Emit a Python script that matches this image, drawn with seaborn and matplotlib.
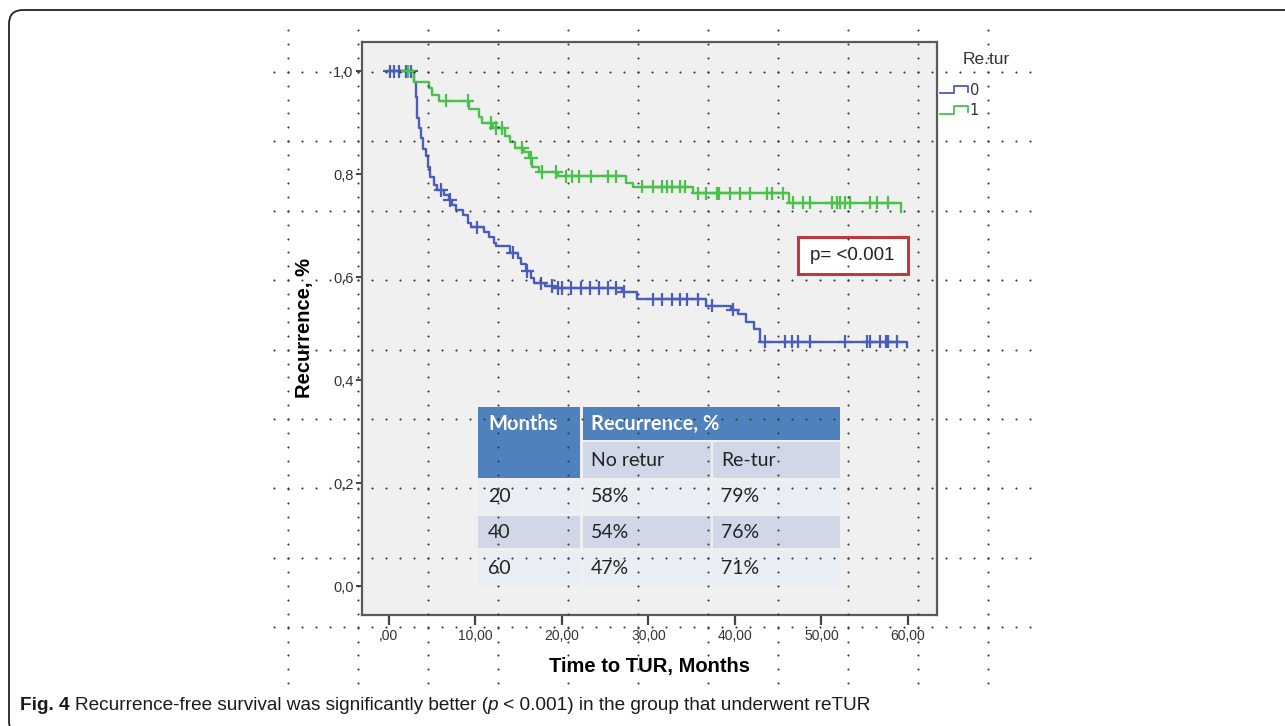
import numpy as np
import pandas as pd
import matplotlib
matplotlib.use("Agg")
import matplotlib.pyplot as plt
import seaborn as sns
from matplotlib.patches import Rectangle, FancyBboxPatch
from matplotlib.lines import Line2D
from matplotlib.legend_handler import HandlerBase
from matplotlib.transforms import IdentityTransform

# ---------------- data ----------------
group_labels = ["0", "1"]

# group 0 (no re-TUR): event times and survival after each step
no_retur_times = [2.9, 3.1, 3.3, 3.5, 3.7, 4.0, 4.3, 4.5, 4.8, 5.2, 5.6, 6.4, 6.9, 7.3,
                  7.8, 8.6, 9.2, 9.5, 11.0, 11.6, 12.1, 12.4, 14.0, 14.9, 15.3, 15.9,
                  16.4, 16.8, 18.0, 19.0, 26.9, 28.7, 36.6, 39.5, 40.4, 41.3, 42.2,
                  42.9, 59.9]
no_retur_surv = [0.98, 0.95, 0.91, 0.89, 0.87, 0.85, 0.835, 0.815, 0.795, 0.78, 0.77,
                 0.76, 0.75, 0.74, 0.73, 0.72, 0.705, 0.697, 0.688, 0.678, 0.667, 0.66,
                 0.648, 0.637, 0.625, 0.612, 0.598, 0.588, 0.583, 0.579, 0.572, 0.557,
                 0.545, 0.537, 0.528, 0.514, 0.50, 0.475, 0.465]
no_retur_censor = [0.1, 0.6, 1.2, 2.0, 2.6, 6.0, 7.1, 10.2, 14.3, 16.0, 17.6, 18.8, 19.5,
                   20.0, 21.0, 22.2, 23.2, 24.3, 25.3, 26.3, 27.2, 30.5, 31.6, 32.7,
                   33.6, 34.5, 35.7, 37.4, 39.8, 43.5, 45.8, 46.6, 47.3, 48.7, 52.7,
                   55.3, 55.6, 56.8, 57.4, 57.7, 58.7]

# group 1 (re-TUR)
retur_times = [2.9, 4.7, 5.0, 5.8, 9.3, 10.4, 10.8, 12.0, 13.4, 14.0, 14.6, 15.6, 16.2,
               16.6, 17.4, 19.6, 27.4, 28.2, 35.1, 46.3, 59.2]
retur_surv = [0.98, 0.968, 0.955, 0.943, 0.927, 0.912, 0.90, 0.89, 0.875, 0.862, 0.852,
              0.843, 0.832, 0.815, 0.804, 0.796, 0.784, 0.776, 0.763, 0.745, 0.726]
retur_censor = [2.2, 6.6, 9.1, 11.8, 12.4, 13.1, 15.4, 16.4, 17.7, 19.3, 20.5, 21.2, 22.0,
                23.4, 25.3, 26.3, 29.3, 30.5, 31.6, 32.1, 32.7, 33.6, 34.2, 35.7, 36.7,
                37.9, 38.2, 39.4, 40.6, 41.7, 43.7, 44.3, 45.5, 46.7, 47.9, 48.7, 51.2,
                51.8, 52.1, 52.7, 53.3, 55.6, 56.4, 57.7]

x_ticks = [0, 10, 20, 30, 40, 50, 60]
x_ticklabels = [",00", "10,00", "20,00", "30,00", "40,00", "50,00", "60,00"]
y_ticks = [0.0, 0.2, 0.4, 0.6, 0.8, 1.0]
y_ticklabels = ["0,0", "0,2", "0,4", "0,6", "0,8", "1,0"]

table_months = ["20", "40", "60"]
table_no_retur = ["58%", "54%", "47%"]
table_re_tur = ["79%", "76%", "71%"]
table_header = ["Months", "Recurrence, %", "No retur", "Re-tur"]

p_text = "p= <0.001"
legend_title = "Re.tur"
x_label = "Time to TUR, Months"
y_label = "Recurrence, %"
caption_parts = [("Fig. 4 ", "bold", "normal"),
                 ("Recurrence-free survival was significantly better (", "normal", "normal"),
                 ("p", "normal", "italic"),
                 (" < 0.001) in the group that underwent reTUR", "normal", "normal")]

colors = {"0": "#4a5cbc", "1": "#48c248"}

# ---------------- build tables ----------------
def steps_frame(times, surv, label):
    return pd.DataFrame({"time": [0.0] + list(times),
                         "surv": [1.0] + list(surv),
                         "group": label})

def censor_frame(times, surv, cens, label):
    t = np.array([0.0] + list(times))
    s = np.array([1.0] + list(surv))
    idx = np.searchsorted(t, np.array(cens), side="right") - 1
    return pd.DataFrame({"time": cens, "surv": s[idx], "group": label})

df_steps = pd.concat([steps_frame(no_retur_times, no_retur_surv, group_labels[0]),
                      steps_frame(retur_times, retur_surv, group_labels[1])],
                     ignore_index=True)
df_cens = pd.concat([censor_frame(no_retur_times, no_retur_surv, no_retur_censor, group_labels[0]),
                     censor_frame(retur_times, retur_surv, retur_censor, group_labels[1])],
                    ignore_index=True)

# ---------------- figure ----------------
W, H = 1285, 726
fig = plt.figure(figsize=(W / 100, H / 100), dpi=100)
fig.patch.set_facecolor("white")
PX = IdentityTransform()

def py(y):
    return H - y

sans = ["Liberation Sans", "DejaVu Sans"]

ax_l, ax_r, ax_t, ax_b = 362, 937, 42, 615
ax = fig.add_axes([ax_l / W, 1 - ax_b / H, (ax_r - ax_l) / W, (ax_b - ax_t) / H])
ax.set_facecolor("#f0f0f0")

sns.lineplot(data=df_steps, x="time", y="surv", hue="group", palette=colors,
             estimator=None, sort=False, drawstyle="steps-post", linewidth=1.7,
             legend=False, ax=ax, zorder=3)
sns.scatterplot(data=df_cens, x="time", y="surv", hue="group", palette=colors,
                marker="+", s=95, linewidth=1.6, legend=False, ax=ax, zorder=4)

ax.set_xlim(-3.1, 63.35)
ax.set_ylim(-0.056, 1.057)
ax.set_xticks(x_ticks)
ax.set_xticklabels(x_ticklabels)
ax.set_yticks(y_ticks)
ax.set_yticklabels(y_ticklabels)
for sp in ax.spines.values():
    sp.set_color("#5a5a5a")
    sp.set_linewidth(1.6)
ax.tick_params(axis="x", direction="out", length=7, width=1.6, color="#444444",
               labelsize=10, labelcolor="#333333", pad=3)
ax.tick_params(axis="y", direction="out", length=4, width=1.4, color="#444444",
               labelsize=10.5, labelcolor="#333333", pad=2)
for lab in ax.get_xticklabels() + ax.get_yticklabels():
    lab.set_family(sans)
ax.set_xlabel(x_label, fontsize=14.5, fontweight="bold", family=sans)
ax.set_ylabel(y_label, fontsize=14.5, fontweight="bold", family=sans)
ax.xaxis.set_label_coords(0.5, -0.073)
ax.yaxis.set_label_coords(-0.083, 0.5)

# ---------------- legend ----------------
class StepHandler(HandlerBase):
    def create_artists(self, legend, orig_handle, xdescent, ydescent, width, height,
                       fontsize, trans):
        x0, y0 = -xdescent, -ydescent
        xs = [x0, x0 + 0.5 * width, x0 + 0.5 * width, x0 + width, x0 + width]
        ys = [y0 + 0.15 * height, y0 + 0.15 * height, y0 + 0.85 * height,
              y0 + 0.85 * height, y0 + 0.3 * height]
        return [Line2D(xs, ys, color=orig_handle.get_color(), lw=1.3, transform=trans)]

handles = [Line2D([], [], color=colors[g]) for g in group_labels]
fig.legend(handles, group_labels, handler_map={Line2D: StepHandler()},
           loc="upper left", bbox_to_anchor=(940 / W, 1 - 83 / H), frameon=False,
           fontsize=10.5, handlelength=1.9, handletextpad=0.15, labelspacing=0.35,
           borderpad=0, borderaxespad=0, labelcolor="#333333")
fig.text(963, py(60), legend_title, transform=PX, fontsize=12.5, ha="left", va="center",
         color="#333333", family=sans)

# ---------------- p-value box ----------------
fig.add_artist(Rectangle((798, py(274)), 110, 37, transform=PX, facecolor="white",
                         edgecolor="#c0393b", linewidth=2.2, zorder=3))
fig.text(852, py(256), p_text, transform=PX, fontsize=13.5, ha="center", va="center",
         color="#222222", family=sans, zorder=4)

# ---------------- table ----------------
blue_h, light1, light2 = "#4f81bd", "#e9edf4", "#d0d8e8"
cols = [(478, 580), (583, 711), (713, 840)]
def cell(x0, x1, y0, y1, color):
    fig.add_artist(Rectangle((x0, py(y1)), x1 - x0, y1 - y0, transform=PX,
                             facecolor=color, edgecolor="none", zorder=3))
tfam = ["Lato", "DejaVu Sans"]
cell(cols[0][0], cols[0][1], 407, 478, blue_h)
cell(cols[1][0], cols[2][1], 407, 440, blue_h)
cell(cols[1][0], cols[1][1], 442, 478, light2)
cell(cols[2][0], cols[2][1], 442, 478, light2)
fig.text(488, py(424), table_header[0], transform=PX, fontsize=14.5, fontweight="bold",
         color="white", ha="left", va="center", family=tfam, zorder=4)
fig.text(591, py(424), table_header[1], transform=PX, fontsize=14.5, fontweight="bold",
         color="white", ha="left", va="center", family=tfam, zorder=4)
fig.text(591, py(461), table_header[2], transform=PX, fontsize=14, color="#222222",
         ha="left", va="center", family=tfam, zorder=4)
fig.text(721, py(461), table_header[3], transform=PX, fontsize=14, color="#222222",
         ha="left", va="center", family=tfam, zorder=4)
row_bounds = [(481, 513), (516, 548), (551, 586)]
row_cols = [light1, light2, light1]
for i, (y0, y1) in enumerate(row_bounds):
    for (x0, x1) in cols:
        cell(x0, x1, y0, y1, row_cols[i])
    yc = (y0 + y1) / 2
    for xt, txt in zip([488, 591, 721], [table_months[i], table_no_retur[i], table_re_tur[i]]):
        fig.text(xt, py(yc), txt, transform=PX, fontsize=14, color="#222222",
                 ha="left", va="center", family=tfam, zorder=4)

# ---------------- dotted overlay (scan artefact) ----------------
col_x = 288 + 70 * np.arange(11)
row_y = 72 + 69.4 * np.arange(9)
dx, dy = [], []
for cx in col_x:
    ys = np.arange(30, 690, 13.9)
    dx += [cx] * len(ys)
    dy += list(ys)
for ry in row_y:
    xs = np.arange(274, 1035, 14)
    dx += list(xs)
    dy += [ry] * len(xs)
fig.add_artist(Line2D(np.array(dx), H - np.array(dy), transform=PX, linestyle="none",
                      marker="o", markersize=1.5, markeredgewidth=0,
                      markerfacecolor="#3a3a3a", zorder=6))

# ---------------- outer rounded frame ----------------
fig.add_artist(FancyBboxPatch((9, py(735)), 1400, 725, transform=PX,
                              boxstyle="round,pad=0,rounding_size=14",
                              facecolor="none", edgecolor="#222222", linewidth=1.3,
                              zorder=1))

# ---------------- caption ----------------
renderer = fig.canvas.get_renderer()
xc = 20
for txt, wt, st in caption_parts:
    t = fig.text(xc, py(706), txt, transform=PX, fontsize=13.7, fontweight=wt,
                 fontstyle=st, color="#1a1a1a", ha="left", va="center", family=sans)
    bb = t.get_window_extent(renderer)
    xc = bb.x1

fig.savefig("out.png", dpi=100)
